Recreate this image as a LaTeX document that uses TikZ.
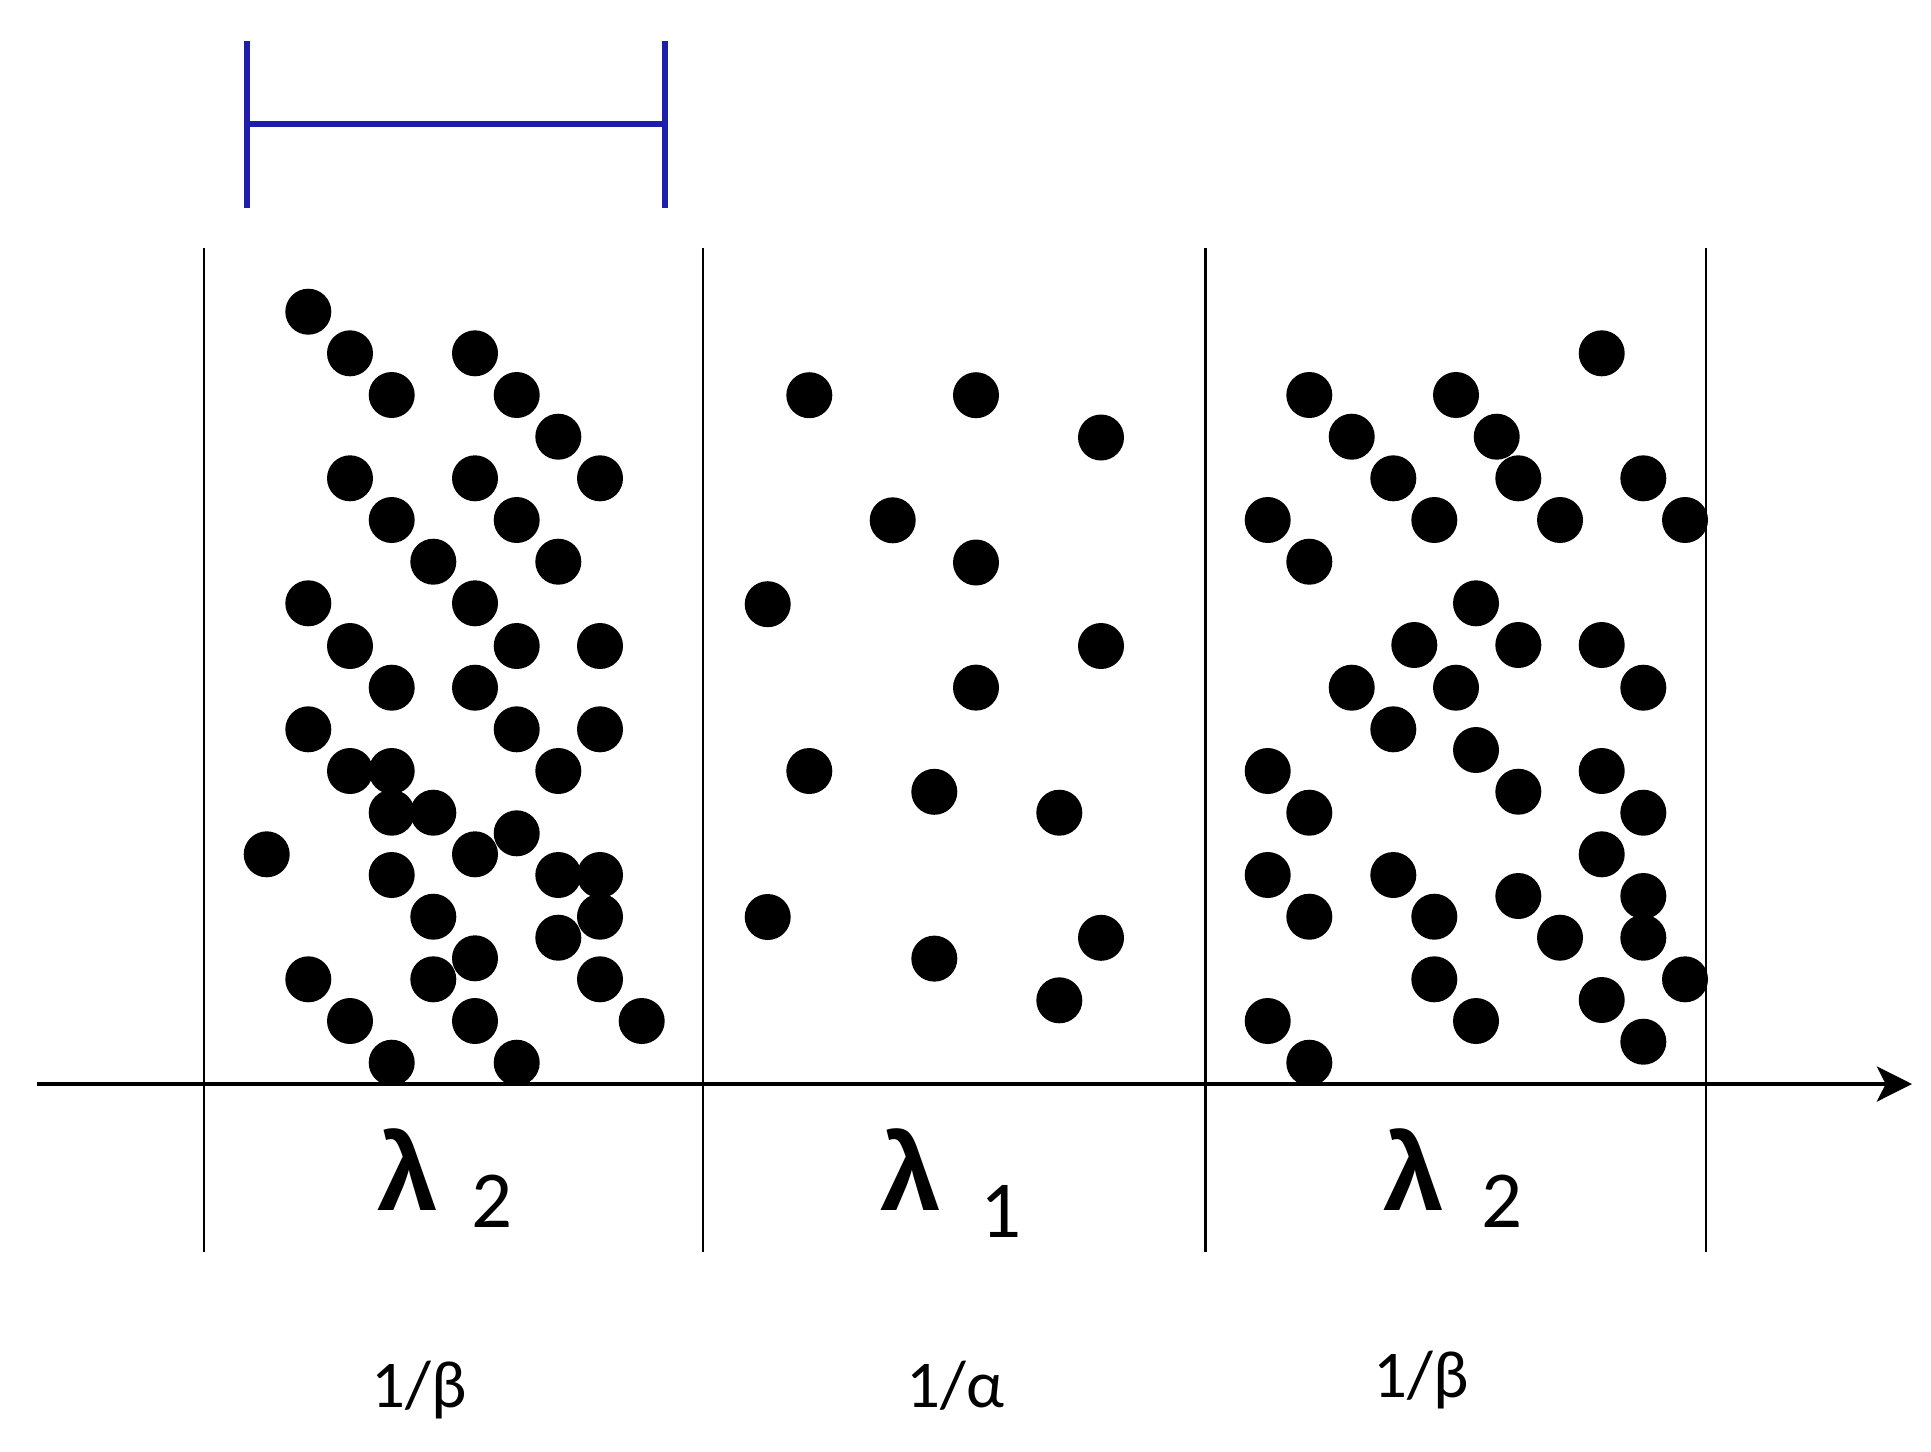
\documentclass[tikz,border=0pt]{standalone}
\usepackage{fontspec}
\setmainfont{Carlito}
\newfontfamily\lamfont{Liberation Sans}
\usetikzlibrary{arrows.meta}
\definecolor{bracketblue}{RGB}{30,30,170}
\begin{document}
\begin{tikzpicture}[x=0.01cm,y=-0.01cm,
  dotfill/.style={fill=black},
  sepline/.style={draw=black,line width=0.8pt},
  axisline/.style={draw=black,line width=0.9pt,-{Stealth[length=10pt,width=10pt,inset=2.5pt]}},
  bracket/.style={draw=bracketblue,line width=1.7pt},
  lam/.style={inner sep=0pt,anchor=base west,font=\lamfont\fontsize{31}{38}\selectfont\bfseries},
  sub/.style={inner sep=0pt,anchor=base west,font=\fontsize{23}{28}\selectfont},
  rate/.style={inner sep=0pt,anchor=base west,font=\fontsize{19}{24}\selectfont}]
\useasboundingbox (0,0) rectangle (1931,1451);
% blue bracket
\coordinate (bl1) at (247,41); \coordinate (bl2) at (247,208);
\coordinate (br1) at (665,41); \coordinate (br2) at (665,208);
\coordinate (bm1) at (247,124); \coordinate (bm2) at (665,124);
\draw[bracket] (bl1) -- (bl2);
\draw[bracket] (br1) -- (br2);
\draw[bracket] (bm1) -- (bm2);
% separators
\foreach \x [count=\i] in {204,703,1205.5,1706}{
  \coordinate (st\i) at (\x,248); \coordinate (sb\i) at (\x,1252);
  \draw[sepline] (st\i) -- (sb\i);
}
% axis
\coordinate (axstart) at (37,1084);
\coordinate (axend) at (1912,1084);
\begin{scope}[x=1cm,y=1cm]
\draw[axisline] (axstart) -- (axend);
\end{scope}
% dots panel 1
\foreach \x/\y in {308.3/311.7,350/353.3,391.7/395,475/353.3,516.7/395,558.3/436.7,350/478.3,475/478.3,600/478.3,391.7/520,516.7/520,433.3/561.7,558.3/561.7,308.3/603.3,475/603.3,350/646,516.7/646,600/646,391.7/687.7,475/687.7,308.3/729.3,516.7/729.3,600/729.3,350/771,391.7/771,558.3/771,391.7/812.7,433.3/812.7,266.7/854.3,475/854.3,516.7/833.3,391.7/875,558.3/875,600/875,433.3/916.7,600/916.7,558.3/937.7,475/958.3,308.3/979.3,433.3/979.3,600/979.3,350/1021,475/1021,641.7/1021,391.7/1062.7,516.7/1062.7}
  \fill[dotfill] (\x,\y) circle[radius=23];
% dots panel 2
\foreach \x/\y in {809.3/395.2,976/395.2,1101/437.5,892.7/520.3,976/562.5,767.7/604.2,1101/646,976/687.6,809.3/771,934.3/791.8,1059.3/812.7,767.7/917,1101/937.8,934.3/958.6,1059.3/1000.3}
  \fill[dotfill] (\x,\y) circle[radius=23];
% dots panel 3
\foreach \x/\y in {1601.7/353.3,1309.3/395,1456/395,1351.7/436.7,1496.7/436.7,1393.3/478.3,1518.3/478.3,1643.3/478.3,1267.7/520,1434.3/520,1560/520,1685/520,1309.3/561.7,1476/603.3,1414.3/645,1518.3/645,1601.7/645,1351.7/687.7,1456/687.7,1643.3/687.7,1393.3/729.3,1476/750,1267.7/771,1601.7/771,1518.3/791.7,1309.3/812.7,1643.3/812.7,1601.7/854.3,1267.7/875,1393.3/875,1518.3/896,1643.3/896,1309.3/916.7,1434.3/916.7,1560/937.7,1643.3/937.7,1685/979.3,1434.3/979.3,1601.7/1000,1267.7/1021,1476/1021,1643.3/1041.7,1309.3/1062.7}
  \fill[dotfill] (\x,\y) circle[radius=23];
% lambda labels
\node[lam] (lamA) at (377,1210) {λ};
\node[sub] (subA) at (471,1227) {2};
\node[lam] (lamB) at (880,1210) {λ};
\node[sub] (subB) at (980,1237) {1};
\node[lam] (lamC) at (1383,1210) {λ};
\node[sub] (subC) at (1481,1227) {2};
% rate labels
\node[rate] (rateA) at (371,1407) {1/β};
\node[rate] (rateB) at (906,1407) {1/α};
\node[rate] (rateC) at (1373,1397) {1/β};
\end{tikzpicture}
\end{document}
